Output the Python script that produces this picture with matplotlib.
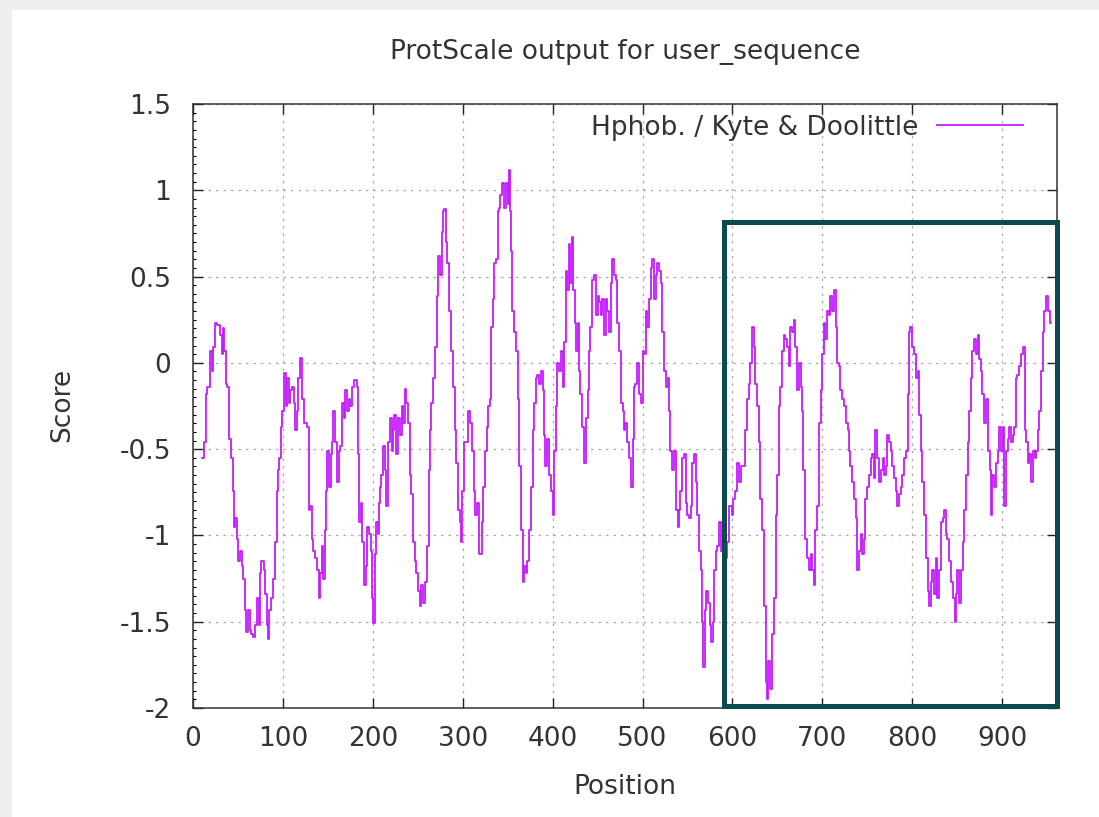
import numpy as np
import matplotlib
matplotlib.use("Agg")
import matplotlib.pyplot as plt
from matplotlib.patches import Rectangle
from matplotlib.ticker import MultipleLocator

# Kyte & Doolittle hydrophobicity
position = [
    10, 12, 13, 15, 17, 20, 22, 23, 25, 28, 31, 33, 34, 36, 37, 39, 41, 43, 45, 46,
    48, 49, 51, 53, 55, 57, 59, 60, 62, 64, 65, 68, 70, 72, 74, 75, 77, 80, 81, 83,
    84, 86, 88, 90, 92, 94, 95, 97, 99, 100, 103, 104, 106, 107, 109, 111, 113, 115, 116, 118,
    120, 123, 125, 128, 129, 131, 133, 135, 137, 139, 141, 142, 144, 146, 147, 149, 150, 152, 154, 155,
    157, 159, 161, 163, 165, 167, 168, 170, 172, 174, 176, 178, 181, 183, 184, 186, 187, 189, 191, 193,
    195, 197, 199, 200, 201, 203, 205, 206, 207, 209, 210, 212, 214, 216, 218, 220, 222, 223, 225, 227,
    229, 231, 233, 235, 236, 238, 240, 242, 244, 246, 248, 249, 251, 253, 255, 257, 259, 261, 263, 264,
    266, 268, 270, 272, 274, 276, 277, 279, 280, 282, 284, 286, 289, 290, 292, 294, 296, 298, 299, 300,
    302, 304, 307, 309, 311, 313, 315, 317, 320, 322, 324, 326, 327, 330, 331, 333, 334, 336, 338, 340,
    341, 343, 345, 347, 349, 351, 352, 353, 354, 356, 358, 360, 362, 364, 366, 367, 369, 371, 373, 375,
    377, 379, 380, 382, 384, 386, 388, 390, 391, 393, 395, 397, 399, 401, 403, 404, 406, 408, 410, 412,
    414, 416, 417, 419, 420, 422, 424, 426, 427, 429, 430, 432, 434, 436, 438, 440, 441, 443, 445, 447,
    449, 451, 453, 454, 456, 458, 460, 462, 464, 466, 467, 469, 471, 473, 475, 477, 479, 480, 482, 484,
    486, 488, 490, 491, 493, 495, 497, 499, 501, 503, 504, 506, 508, 510, 512, 514, 516, 517, 519, 521,
    523, 525, 527, 529, 530, 532, 534, 536, 538, 540, 541, 543, 545, 547, 549, 551, 553, 554, 556, 558,
    560, 562, 564, 566, 567, 568, 570, 572, 574, 576, 577, 579, 581, 582, 584, 586, 588, 590, 593, 595,
    598, 600, 602, 604, 606, 608, 612, 615, 617, 619, 621, 623, 625, 626, 628, 630, 632, 634, 636, 638,
    639, 641, 643, 645, 647, 649, 651, 652, 654, 656, 658, 660, 662, 664, 665, 667, 669, 671, 673, 675,
    677, 678, 680, 682, 684, 686, 688, 690, 691, 693, 695, 697, 699, 701, 703, 704, 706, 708, 710, 712,
    714, 716, 717, 719, 721, 723, 725, 727, 729, 730, 732, 734, 736, 738, 740, 742, 743, 745, 747, 749,
    751, 753, 755, 756, 758, 760, 762, 764, 766, 768, 770, 771, 773, 775, 777, 779, 781, 783, 784, 786,
    788, 790, 792, 794, 796, 797, 799, 801, 803, 805, 807, 809, 810, 812, 814, 816, 818, 820, 822, 823,
    825, 827, 829, 831, 833, 835, 836, 838, 840, 842, 844, 846, 848, 849, 851, 853, 855, 857, 859, 861,
    862, 864, 866, 868, 870, 872, 874, 875, 877, 879, 881, 883, 885, 887, 888, 890, 892, 894, 896, 898,
    900, 901, 903, 905, 907, 909, 911, 913, 914, 916, 918, 920, 922, 924, 926, 928, 929, 931, 933, 935,
    937, 939, 941, 942, 944, 946, 948, 950, 952, 954,
]
score = [
    -0.55, -0.55, -0.46, -0.18, -0.14, 0.07, -0.05, 0.09, 0.23, 0.22, 0.16, 0.05, 0.20, 0.07, -0.12, -0.14, -0.44, -0.55, -0.74, -0.95,
    -0.90, -1.02, -1.15, -1.09, -1.18, -1.25, -1.43, -1.56, -1.43, -1.55, -1.57, -1.59, -1.52, -1.36, -1.52, -1.22, -1.15, -1.20, -1.34, -1.52,
    -1.60, -1.43, -1.36, -1.25, -1.04, -0.74, -0.62, -0.55, -0.37, -0.28, -0.06, -0.25, -0.09, -0.23, -0.16, -0.14, -0.23, -0.39, -0.28, -0.09,
    0.03, -0.21, -0.35, -0.37, -0.85, -0.83, -1.02, -1.09, -1.13, -1.20, -1.36, -1.22, -1.06, -1.25, -0.97, -0.74, -0.51, -0.72, -0.53, -0.46,
    -0.28, -0.46, -0.69, -0.51, -0.48, -0.23, -0.32, -0.16, -0.28, -0.21, -0.25, -0.14, -0.10, -0.14, -0.53, -0.92, -0.81, -1.04, -1.29, -1.18,
    -0.95, -0.99, -1.09, -1.36, -1.51, -1.11, -0.92, -0.99, -0.81, -0.72, -0.65, -0.48, -0.62, -0.83, -0.46, -0.32, -0.51, -0.39, -0.30, -0.53,
    -0.32, -0.42, -0.25, -0.35, -0.15, -0.23, -0.35, -0.65, -0.76, -1.04, -1.15, -1.22, -1.32, -1.41, -1.29, -1.39, -1.27, -1.06, -0.62, -0.39,
    -0.23, -0.09, 0.09, 0.39, 0.62, 0.51, 0.76, 0.88, 0.89, 0.70, 0.58, 0.30, 0.07, -0.14, -0.39, -0.58, -0.85, -0.92, -1.04, -0.74,
    -0.46, -0.46, -0.28, -0.35, -0.51, -0.74, -0.88, -0.81, -1.11, -0.92, -0.72, -0.51, -0.37, -0.25, -0.21, 0.21, 0.37, 0.58, 0.60, 0.88,
    0.90, 0.97, 1.04, 0.90, 1.04, 0.92, 1.12, 0.88, 0.65, 0.30, 0.18, 0.07, -0.21, -0.60, -0.97, -1.27, -1.18, -1.22, -1.15, -0.97,
    -0.72, -0.39, -0.23, -0.09, -0.07, -0.12, -0.05, -0.16, -0.42, -0.60, -0.44, -0.65, -0.74, -0.88, -0.51, -0.25, 0.00, -0.05, 0.07, -0.14,
    0.12, 0.53, 0.42, 0.69, 0.46, 0.73, 0.42, 0.23, 0.07, 0.23, -0.05, -0.18, -0.37, -0.58, -0.32, -0.16, 0.07, 0.21, 0.48, 0.51,
    0.28, 0.39, 0.35, 0.28, 0.37, 0.16, 0.37, 0.30, 0.18, 0.46, 0.60, 0.51, 0.48, 0.23, 0.07, -0.23, -0.28, -0.39, -0.35, -0.46,
    -0.55, -0.72, -0.44, -0.14, -0.12, 0.00, -0.18, -0.23, 0.07, 0.05, 0.30, 0.21, 0.37, 0.55, 0.60, 0.37, 0.51, 0.58, 0.53, 0.46,
    0.18, -0.05, -0.14, -0.09, -0.28, -0.51, -0.62, -0.51, -0.85, -0.95, -0.85, -0.74, -0.55, -0.53, -0.81, -0.88, -0.90, -0.83, -0.58, -0.53,
    -0.69, -0.88, -1.09, -1.20, -1.50, -1.76, -1.43, -1.32, -1.39, -1.52, -1.62, -1.50, -1.20, -1.09, -1.06, -0.92, -1.09, -1.13, -1.13, -1.04,
    -0.83, -0.88, -0.79, -0.74, -0.58, -0.69, -0.60, -0.39, -0.21, -0.12, 0.00, 0.21, 0.09, -0.12, -0.25, -0.46, -0.79, -0.97, -1.41, -1.85,
    -1.95, -1.73, -1.89, -1.57, -1.36, -0.88, -0.65, -0.25, -0.14, 0.07, 0.16, 0.14, 0.09, -0.02, 0.21, 0.18, 0.25, 0.09, -0.16, 0.00,
    -0.14, -0.28, -0.62, -1.02, -1.13, -1.20, -1.11, -1.20, -1.29, -0.97, -0.83, -0.35, -0.16, 0.05, 0.23, 0.14, 0.30, 0.28, 0.39, 0.30,
    0.42, 0.21, 0.00, -0.02, -0.16, -0.21, -0.25, -0.35, -0.39, -0.51, -0.60, -0.69, -0.79, -0.90, -1.20, -1.09, -0.99, -1.11, -1.02, -0.79,
    -0.72, -0.65, -0.55, -0.53, -0.67, -0.39, -0.55, -0.69, -0.62, -0.55, -0.65, -0.60, -0.42, -0.46, -0.51, -0.60, -0.67, -0.74, -0.83, -0.76,
    -0.72, -0.65, -0.55, -0.51, -0.18, 0.18, 0.21, 0.09, 0.05, -0.09, -0.05, -0.30, -0.51, -0.69, -0.88, -1.13, -1.32, -1.41, -1.27, -1.20,
    -1.34, -1.13, -1.36, -1.20, -0.92, -0.90, -0.85, -0.99, -1.02, -1.15, -1.27, -1.36, -1.50, -1.34, -1.20, -1.39, -1.20, -1.04, -0.85, -0.65,
    -0.46, -0.28, -0.09, 0.07, 0.14, 0.05, 0.16, 0.02, -0.05, -0.18, -0.35, -0.21, -0.51, -0.62, -0.88, -0.65, -0.72, -0.58, -0.51, -0.37,
    -0.51, -0.37, -0.83, -0.51, -0.44, -0.37, -0.46, -0.42, -0.37, -0.09, -0.07, -0.02, 0.05, 0.09, -0.39, -0.46, -0.58, -0.53, -0.69, -0.51,
    -0.55, -0.51, -0.39, -0.28, -0.05, 0.18, 0.30, 0.39, 0.30, 0.23,
]
x_ticks = [0, 100, 200, 300, 400, 500, 600, 700, 800, 900]
y_ticks = [-2, -1.5, -1, -0.5, 0, 0.5, 1, 1.5]
y_tick_labels = ["-2", "-1.5", "-1", "-0.5", "0", "0.5", "1", "1.5"]

W, H = 1099, 817
FS = 19
fig = plt.figure(figsize=(W / 100, H / 100), dpi=100, facecolor="#efefef")
# white card behind the plot (screenshot frame)
fig.add_artist(Rectangle((12 / W, 0), 1, 1 - 10 / H, transform=fig.transFigure,
                         facecolor="white", edgecolor="none", zorder=0))

left, right, top, bottom = 193, 1057, 104, 708
ax = fig.add_axes([left / W, 1 - bottom / H, (right - left) / W, (bottom - top) / H])
ax.set_facecolor("white")

ax.plot(position, score, color="#c61aff", linewidth=1.3, drawstyle="steps-mid",
        label="Hphob. / Kyte & Doolittle")

ax.set_xlim(0, 961)
ax.set_ylim(-2, 1.5)
ax.set_xticks(x_ticks)
ax.set_yticks(y_ticks)
ax.set_yticklabels(y_tick_labels)
ax.yaxis.set_minor_locator(MultipleLocator(0.05))
ax.tick_params(which="major", direction="in", length=7, width=1, top=True, right=True,
               labelsize=FS, colors="#222222", labelcolor="#333333")
ax.tick_params(axis="y", which="major", pad=16)
ax.tick_params(axis="x", which="major", pad=13)
ax.tick_params(axis="y", which="minor", direction="in", length=2, width=0.8, left=True, right=False)
ax.grid(True, which="major", color="#a8a8a8", linestyle=(0, (2, 4)), linewidth=0.9)
for s in ax.spines.values():
    s.set_color("#333333")
    s.set_linewidth(1.1)

ax.legend(loc="upper right", bbox_to_anchor=(0.973, 1.0), borderaxespad=0, frameon=False,
          markerfirst=False, fontsize=FS, handlelength=3.25, handletextpad=0.72,
          labelcolor="#333333")

fig.text(625 / W, 1 - 52 / H, "ProtScale output for user_sequence", ha="center", va="center",
         fontsize=FS, color="#333333")
fig.text(625 / W, 1 - 787 / H, "Position", ha="center", va="center", fontsize=FS, color="#333333")
fig.text(62 / W, 1 - 405 / H, "Score", ha="center", va="center", rotation=90, fontsize=FS,
         color="#333333")

# highlighted region drawn over the chart
fig.add_artist(Rectangle((724 / W, 1 - 706 / H), (1057 - 724) / W, (706 - 222) / H,
                         transform=fig.transFigure, fill=False, edgecolor="#0c4a4f",
                         linewidth=3.6, zorder=10))

fig.savefig("out.png", dpi=100, facecolor=fig.get_facecolor())
